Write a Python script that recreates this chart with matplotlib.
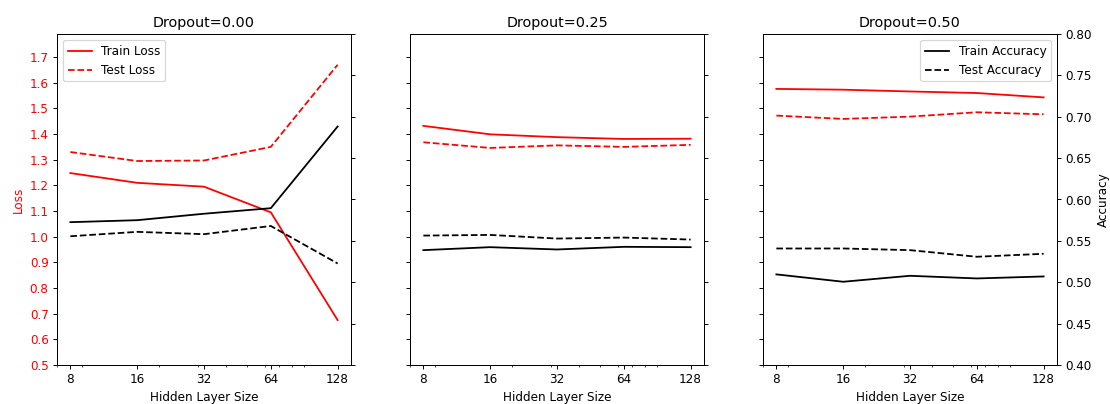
import numpy as np
import matplotlib
matplotlib.use('Agg')
import matplotlib.pyplot as plt

sizes = [8, 16, 32, 64, 128]
dropouts = ['0.00', '0.25', '0.50']

train_loss = [
    [1.248, 1.210, 1.195, 1.095, 0.675],
    [1.432, 1.399, 1.388, 1.381, 1.382],
    [1.576, 1.573, 1.566, 1.560, 1.543],
]
test_loss = [
    [1.330, 1.295, 1.297, 1.350, 1.670],
    [1.368, 1.346, 1.356, 1.350, 1.358],
    [1.472, 1.459, 1.468, 1.485, 1.477],
]
train_acc = [
    [0.5726, 0.5750, 0.5828, 0.5895, 0.6882],
    [0.5388, 0.5424, 0.5396, 0.5428, 0.5424],
    [0.5095, 0.5006, 0.5078, 0.5046, 0.5070],
]
test_acc = [
    [0.5556, 0.5609, 0.5581, 0.5680, 0.5227],
    [0.5564, 0.5572, 0.5528, 0.5540, 0.5516],
    [0.5408, 0.5408, 0.5388, 0.5308, 0.5344],
]

dpi = 86
fig, axes = plt.subplots(1, 3, figsize=(1110/dpi, 404/dpi), dpi=dpi)
fig.subplots_adjust(left=57/1110, right=1057/1110, bottom=1-365/404, top=1-34/404, wspace=0.2007)

for i, ax in enumerate(axes):
    ax2 = ax.twinx()
    ax.plot(sizes, train_loss[i], color='red', label='Train Loss')
    ax.plot(sizes, test_loss[i], color='red', linestyle='--', label='Test Loss')
    ax2.plot(sizes, train_acc[i], color='black', label='Train Accuracy')
    ax2.plot(sizes, test_acc[i], color='black', linestyle='--', label='Test Accuracy')

    ax.set_xscale('log')
    ax.set_xticks(sizes)
    ax.set_xticklabels([str(s) for s in sizes])
    ax.set_xlabel('Hidden Layer Size')
    ax.set_title('Dropout=' + dropouts[i])

    ax.set_ylim(0.5, 1.79)
    ax.set_yticks(np.arange(0.5, 1.71, 0.1))
    ax2.set_ylim(0.4, 0.8)
    ax2.set_yticks(np.arange(0.4, 0.801, 0.05))

    if i == 0:
        ax.set_ylabel('Loss', color='red')
        ax.tick_params(axis='y', labelcolor='red')
        ax.legend(loc='upper left')
    else:
        ax.tick_params(axis='y', labelleft=False)
    if i == 2:
        ax2.set_ylabel('Accuracy')
        ax2.legend(loc='upper right')
    else:
        ax2.tick_params(axis='y', labelright=False)

plt.savefig('out.png')
